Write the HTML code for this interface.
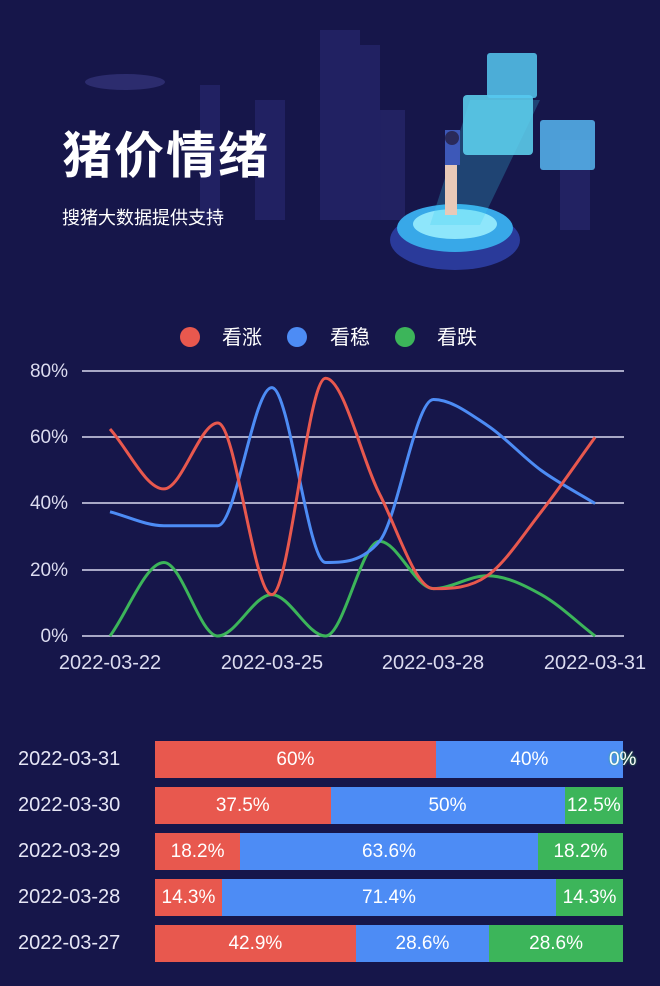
<!DOCTYPE html>
<html><head><meta charset="utf-8">
<style>
html,body{margin:0;padding:0}
body{width:660px;height:986px;background:#16164a;position:relative;overflow:hidden;font-family:"Liberation Sans","Noto Sans CJK SC",sans-serif;color:#fff}
.abs{position:absolute}
.row{position:absolute;left:0;width:660px;height:37px}
.row .d{position:absolute;left:18px;top:7px;font-size:20px;color:#e6e6f5}
.row .bar{position:absolute;left:155px;top:0;height:37px;width:468px;display:flex}
.bar div{height:37px;line-height:37px;text-align:center;font-size:19px;color:#fff;white-space:nowrap;overflow:visible}
.r{background:#e8584e}.b{background:#4d8cf5}.g{background:#3cb55a}
</style></head><body>
<svg class="abs" style="left:0;top:0" width="660" height="320">
 <rect width="660" height="320" fill="#16164a"/>
 <g fill="#232365" opacity="0.9">
  <rect x="320" y="30" width="40" height="190"/><rect x="350" y="45" width="30" height="175"/>
  <rect x="200" y="85" width="20" height="135"/><rect x="255" y="100" width="30" height="120"/>
  <rect x="380" y="110" width="25" height="110"/><rect x="560" y="140" width="30" height="90"/>
 </g>
 <ellipse cx="125" cy="82" rx="40" ry="8" fill="#2c2c6e"/>
 <ellipse cx="455" cy="240" rx="65" ry="30" fill="#2a3a9a"/>
 <ellipse cx="455" cy="228" rx="58" ry="24" fill="#38a8e8"/>
 <ellipse cx="455" cy="224" rx="42" ry="15" fill="#8ee6fb"/>
 <path d="M430 225 L470 100 L540 100 L480 225Z" fill="#3ad0f0" opacity="0.25"/>
 <rect x="463" y="95" width="70" height="60" rx="4" fill="#5fd6f3" opacity="0.85"/>
 <rect x="487" y="53" width="50" height="45" rx="3" fill="#56c8f0" opacity="0.85"/>
 <rect x="540" y="120" width="55" height="50" rx="3" fill="#57b6f0" opacity="0.85"/>
 <rect x="445" y="130" width="15" height="35" fill="#3d58b8"/>
 <rect x="445" y="165" width="12" height="50" fill="#e8c9b8"/>
 <circle cx="452" cy="138" r="7" fill="#2a2a5a"/>
 <text x="62" y="173" font-size="50" font-weight="bold" fill="#fff" font-family="'Noto Sans CJK SC',sans-serif" letter-spacing="2">猪价情绪</text>
 <text x="62" y="224" font-size="18" fill="#fff" font-family="'Noto Sans CJK SC',sans-serif">搜猪大数据提供支持</text>
</svg>
<svg id="ch" class="abs" style="left:0;top:320px" width="660" height="360" font-family="Liberation Sans, sans-serif">
 <circle cx="190" cy="17" r="10" fill="#e8584e"/><circle cx="297" cy="17" r="10" fill="#4d8cf5"/><circle cx="405" cy="17" r="10" fill="#3cb55a"/>
 <g font-size="20" fill="#fff" font-family="'Noto Sans CJK SC',sans-serif"><text x="222" y="24">看涨</text><text x="330" y="24">看稳</text><text x="437" y="24">看跌</text></g>
 <g stroke="#d8d8f0" stroke-width="1.5">
  <line x1="82" x2="624" y1="51" y2="51"/><line x1="82" x2="624" y1="117" y2="117"/><line x1="82" x2="624" y1="183" y2="183"/><line x1="82" x2="624" y1="250" y2="250"/><line x1="82" x2="624" y1="316" y2="316"/>
 </g>
 <g font-size="19" fill="#dcdcf0" text-anchor="end"><text x="68" y="57">80%</text><text x="68" y="123">60%</text><text x="68" y="189">40%</text><text x="68" y="256">20%</text><text x="68" y="322">0%</text></g>
 <g font-size="20" fill="#dcdcf0" text-anchor="middle"><text x="110" y="349">2022-03-22</text><text x="272" y="349">2022-03-25</text><text x="433" y="349">2022-03-28</text><text x="595" y="349">2022-03-31</text></g>
 <path id="pg" fill="none" stroke="#3cb55a" stroke-width="3"/>
 <path id="pb" fill="none" stroke="#4d8cf5" stroke-width="3"/>
 <path id="pr" fill="none" stroke="#e8584e" stroke-width="3"/>
</svg>
<script>
function P(d){var n=d.length,h=53.9,x=d.map(function(v,i){return 110+i*h}),y=d.map(function(v){return 316-v*3.3125});
var dl=[],m=[];for(var i=0;i<n-1;i++)dl.push((y[i+1]-y[i])/h);
m[0]=dl[0];m[n-1]=dl[n-2];
for(i=1;i<n-1;i++){m[i]=(dl[i-1]*dl[i]<=0)?0:(dl[i-1]+dl[i])/2;}
for(i=0;i<n-1;i++){if(dl[i]==0){m[i]=m[i+1]=0;continue;}var a=m[i]/dl[i],b=m[i+1]/dl[i],s=a*a+b*b;if(s>9){var t=3/Math.sqrt(s);m[i]=t*a*dl[i];m[i+1]=t*b*dl[i];}}
var s="M"+x[0]+","+y[0];
for(i=0;i<n-1;i++){s+=" C"+(x[i]+h/3)+","+(y[i]+m[i]*h/3)+" "+(x[i+1]-h/3)+","+(y[i+1]-m[i+1]*h/3)+" "+x[i+1]+","+y[i+1];}
return s;}
document.getElementById("pr").setAttribute("d",P([62.5,44.4,64.3,12.5,77.8,42.9,14.3,18.2,37.5,60]));
document.getElementById("pb").setAttribute("d",P([37.5,33.3,33.3,75,22.2,28.6,71.4,63.6,50,40]));
document.getElementById("pg").setAttribute("d",P([0,22.2,0,12.5,0,28.6,14.3,18.2,12.5,0]));
</script>
<div class="row" style="top:741px"><div class="d">2022-03-31</div><div class="bar"><div class="r" style="width:60%">60%</div><div class="b" style="width:40%">40%</div><div class="g" style="width:0;color:#fff;text-shadow:0 0 2px #3cb55a;position:relative;left:-14px">0%</div></div></div>
<div class="row" style="top:787px"><div class="d">2022-03-30</div><div class="bar"><div class="r" style="width:37.5%">37.5%</div><div class="b" style="width:50%">50%</div><div class="g" style="width:12.5%">12.5%</div></div></div>
<div class="row" style="top:833px"><div class="d">2022-03-29</div><div class="bar"><div class="r" style="width:18.2%">18.2%</div><div class="b" style="width:63.6%">63.6%</div><div class="g" style="width:18.2%">18.2%</div></div></div>
<div class="row" style="top:879px"><div class="d">2022-03-28</div><div class="bar"><div class="r" style="width:14.3%">14.3%</div><div class="b" style="width:71.4%">71.4%</div><div class="g" style="width:14.3%">14.3%</div></div></div>
<div class="row" style="top:925px"><div class="d">2022-03-27</div><div class="bar"><div class="r" style="width:42.9%">42.9%</div><div class="b" style="width:28.5%">28.6%</div><div class="g" style="width:28.6%">28.6%</div></div></div>
</body></html>
